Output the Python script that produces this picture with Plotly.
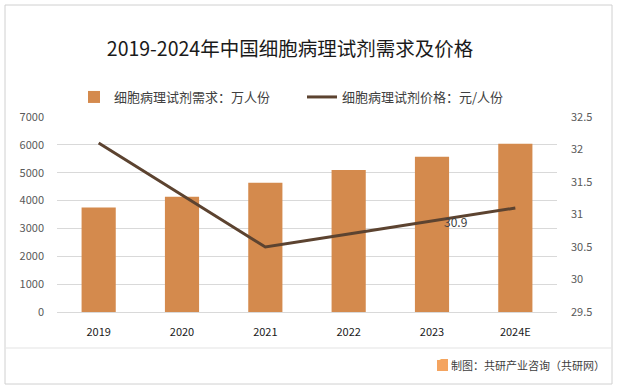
import plotly.graph_objects as go

years = ["2019", "2020", "2021", "2022", "2023", "2024E"]
demand = [3750, 4140, 4640, 5100, 5570, 6040]
price = [32.1, 31.3, 30.5, 30.7, 30.9, 31.1]
label_idx = 4  # price point that carries a data label (2023)
bar_name = "细胞病理试剂需求：万人份"
line_name = "细胞病理试剂价格：元/人份"
title_text = "2019-2024年中国细胞病理试剂需求及价格"
source_text = "制图：共研产业咨询（共研网）"

FONT = "Noto Sans CJK SC"
W, H = 617, 389
L, R, T, B = 57, 557, 117, 312

def px(x):
    return (x - L) / (R - L)

def py(y):
    return (B - y) / (B - T)

fig = go.Figure()
fig.add_trace(go.Bar(x=years, y=demand, name=bar_name, marker_color="#D48A4D",
                     marker_line_width=0, yaxis="y", xaxis="x"))
fig.add_trace(go.Scatter(x=years, y=price, name=line_name, mode="lines",
                         line=dict(color="#5C4330", width=3), yaxis="y2", xaxis="x"))

fig.add_annotation(x=label_idx, y=price[label_idx], xref="x", yref="y2",
                   text=str(price[label_idx]),
                   showarrow=False, xanchor="left", xshift=10, yshift=0,
                   font=dict(family=FONT, size=12, color="#404040"))

fig.add_annotation(x=px(607), y=py(365), xref="paper", yref="paper", text=source_text,
                   showarrow=False, xanchor="right", yanchor="middle",
                   font=dict(family=FONT, size=11, color="#404040"))
# logo
fig.add_shape(type="rect", xref="paper", yref="paper", x0=px(437), x1=px(448),
              y0=py(371), y1=py(359), fillcolor="#F4A460", line_width=0)
fig.add_annotation(x=px(442.5), y=py(365), xref="paper", yref="paper", text="<b>G</b>",
                   showarrow=False, font=dict(family=FONT, size=9, color="white"))

# separator and border
fig.add_shape(type="line", xref="paper", yref="paper", x0=px(6), x1=px(611),
              y0=py(348), y1=py(348), line=dict(color="#E3E3E3", width=1))
fig.add_shape(type="rect", xref="paper", yref="paper", x0=px(5), x1=px(612),
              y0=py(384), y1=py(5), line=dict(color="#D0D0D0", width=1))

fig.update_layout(
    width=W, height=H,
    margin=dict(l=L, r=W - R, t=T, b=H - B, pad=0),
    paper_bgcolor="white", plot_bgcolor="white",
    title=dict(text=title_text, x=290 / W, xanchor="center", y=1 - 49 / H, yanchor="middle",
               font=dict(family=FONT, size=19.5, color="#1a1a1a")),
    bargap=0.59,
    showlegend=True,
    legend=dict(orientation="h", x=px(74), y=py(97), xanchor="left", yanchor="middle",
                font=dict(family=FONT, size=13, color="#404040"), itemwidth=30,
                entrywidth=183, entrywidthmode="pixels",
                bgcolor="rgba(0,0,0,0)"),
    xaxis=dict(type="category", categoryorder="array", categoryarray=years,
               range=[-0.5, len(years) - 0.5],
               tickfont=dict(family=FONT, size=11, color="#1a1a1a"),
               showline=True, linecolor="#D9D9D9", linewidth=1,
               ticks="outside", ticklen=10, tickcolor="rgba(0,0,0,0)", showgrid=False),
    yaxis=dict(range=[0, 7000], dtick=1000, tickfont=dict(family=FONT, size=11, color="#595959"),
               showgrid=True, gridcolor="#D9D9D9", gridwidth=1, zeroline=False, ticks="",
               ticklabelstandoff=12, showline=False),
    yaxis2=dict(range=[29.5, 32.5], dtick=0.5, overlaying="y", side="right",
                tickfont=dict(family=FONT, size=11, color="#595959"), showgrid=False,
                zeroline=False, ticks="", ticklabelstandoff=13, showline=False),
)

fig.write_html("out.html", config={"displayModeBar": False},
               post_script="document.body.style.margin='0';")
